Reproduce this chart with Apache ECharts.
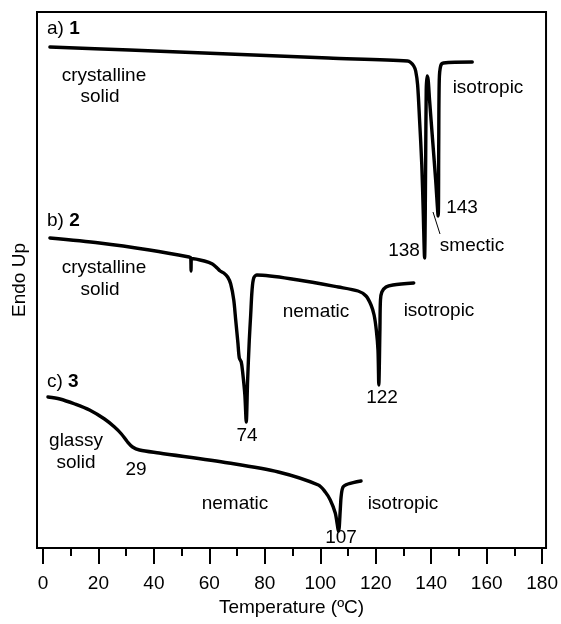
<!DOCTYPE html>
<html>
<head>
<meta charset="utf-8">
<script src="https://cdn.jsdelivr.net/npm/echarts@6/dist/echarts.min.js"></script>
<style>html,body{margin:0;padding:0;background:#fff}#c{width:561px;height:624px}</style>
</head>
<body>
<div id="c"></div>
<script>
// Temperature (°C) and signal (arbitrary units, Endo Up) for each sample
var t1 = [2.5, 31.2, 67, 102.9, 131.5, 132.6, 133.7, 134.4, 135.1, 135.8, 136.6, 137.1, 137.6, 138.0, 138.2, 138.5, 138.9, 139.4, 140.5, 141.6, 142.5, 142.7, 142.9, 143.4, 144.4, 154.8];
var y1 = [501, 498, 494, 490, 487, 485.5, 482, 477, 463, 428, 383, 338, 290, 388, 458, 472, 468, 448, 408, 368, 332, 398, 468, 482, 485, 486];

var t2 = [2.5, 20.4, 38.4, 52.7, 53.3, 53.4, 53.5, 58.2, 61.1, 62.8, 63.9, 65.2, 66.6, 67.7, 68.8, 69.5, 70.3, 70.8, 71.5, 72, 72.8, 73.3, 73.8, 74.4, 74.9, 75.4, 76, 77.1, 92.1, 106.5, 113.6, 116.5, 118.3, 119.4, 120.2, 120.8, 121.1, 121.5, 121.7, 122.2, 123.7, 126.2, 133.7];
var y2 = [310, 305, 298, 291, 290, 277, 289.5, 287, 284, 280, 277, 275, 271, 264, 248, 228, 205, 190, 186, 176, 153, 126, 168, 208, 233, 258, 270, 273, 268, 261, 257, 252, 243, 233, 218, 198, 163, 218, 248, 256, 261, 263, 265];

var t3 = [1.8, 6.1, 11.5, 16.8, 22.2, 25.8, 28.3, 30.5, 32.3, 34.8, 41.9, 67, 84.9, 99.3, 101.8, 103.6, 105.4, 106.6, 107.2, 107.5, 108.2, 110, 114.7];
var y3 = [151, 149, 144, 138, 129, 121, 114, 106, 101, 98, 95, 85, 76, 63, 56, 48, 35, 17, 38, 51, 61, 64, 67];

var majorTicks = [0, 20, 40, 60, 80, 100, 120, 140, 160, 180];
var minorTicks = [10, 30, 50, 70, 90, 110, 130, 150, 170];

var FONT = '"Liberation Sans", Arial, Helvetica, sans-serif';
var FS = 19;

function pairs(t, y) { return t.map(function (v, i) { return [v, y[i]]; }); }

// annotation texts
var notes = [
  { rich: true, text: '{n|a) }{b|1}', x: 47, y: 29 },
  { text: 'crystalline', x: 104, y: 76 },
  { text: 'solid', x: 100, y: 97 },
  { text: 'isotropic', x: 488, y: 88 },
  { text: '143', x: 462, y: 208 },
  { text: '138', x: 404, y: 251 },
  { text: 'smectic', x: 472, y: 246 },
  { rich: true, text: '{n|b) }{b|2}', x: 47, y: 221 },
  { text: 'crystalline', x: 104, y: 268 },
  { text: 'solid', x: 100, y: 290 },
  { text: 'nematic', x: 316, y: 312 },
  { text: 'isotropic', x: 439, y: 311 },
  { text: '122', x: 382, y: 398 },
  { text: '74', x: 247, y: 436 },
  { rich: true, text: '{n|c) }{b|3}', x: 47, y: 382 },
  { text: 'glassy', x: 76, y: 441 },
  { text: 'solid', x: 76, y: 463 },
  { text: '29', x: 136, y: 470 },
  { text: 'nematic', x: 235, y: 504 },
  { text: 'isotropic', x: 403, y: 504 },
  { text: '107', x: 341, y: 538 }
];

var graphics = notes.map(function (n) {
  var st = {
    text: n.text, fill: '#000', fontSize: FS, fontFamily: FONT,
    align: n.rich ? 'left' : 'center', verticalAlign: 'middle'
  };
  if (n.rich) {
    st.rich = {
      n: { fontSize: FS, fontFamily: FONT, fill: '#000' },
      b: { fontSize: FS, fontFamily: FONT, fontWeight: 'bold', fill: '#000' }
    };
  }
  return { type: 'text', x: n.x, y: n.y, style: st, z: 10 };
});
graphics.push({
  type: 'line', shape: { x1: 433, y1: 212, x2: 440, y2: 234 },
  style: { stroke: '#000', lineWidth: 1 }, z: 10
});

var chart = echarts.init(document.getElementById('c'), null, { renderer: 'canvas' });
var lineSeries = function (d) {
  return {
    type: 'line', data: d, showSymbol: false, symbol: 'none',
    smooth: 0.3,
    lineStyle: { color: '#000', width: 3.4, cap: 'round', join: 'round' },
    animation: false
  };
};
chart.setOption({
  animation: false,
  grid: { left: 37, right: 12, top: 12, bottom: 76, show: true, borderColor: '#000', borderWidth: 2, backgroundColor: 'transparent' },
  xAxis: [{
    type: 'value', min: -2.15, max: 181.4, position: 'bottom',
    axisLine: { show: false }, splitLine: { show: false },
    axisTick: { show: true, inside: false, length: 16, lineStyle: { color: '#000', width: 2 }, customValues: majorTicks },
    axisLabel: { show: true, customValues: majorTicks, margin: 26, fontSize: FS, color: '#000', fontFamily: FONT },
    name: 'Temperature (ºC)', nameLocation: 'middle', nameGap: 50,
    nameTextStyle: { fontSize: FS, color: '#000', fontFamily: FONT }
  }, {
    type: 'value', min: -2.15, max: 181.4, position: 'bottom',
    axisLine: { show: false }, splitLine: { show: false },
    axisTick: { show: true, inside: false, length: 8, lineStyle: { color: '#000', width: 2 }, customValues: minorTicks },
    axisLabel: { show: false }
  }],
  yAxis: {
    type: 'value', min: 0, max: 536,
    axisLine: { show: false }, axisTick: { show: false }, axisLabel: { show: false }, splitLine: { show: false },
    name: 'Endo Up', nameLocation: 'middle', nameGap: 8, nameRotate: 90,
    nameTextStyle: { fontSize: FS, color: '#000', fontFamily: FONT }
  },
  series: [lineSeries(pairs(t1, y1)), lineSeries(pairs(t2, y2)), lineSeries(pairs(t3, y3))],
  graphic: graphics
});
</script>
</body>
</html>
